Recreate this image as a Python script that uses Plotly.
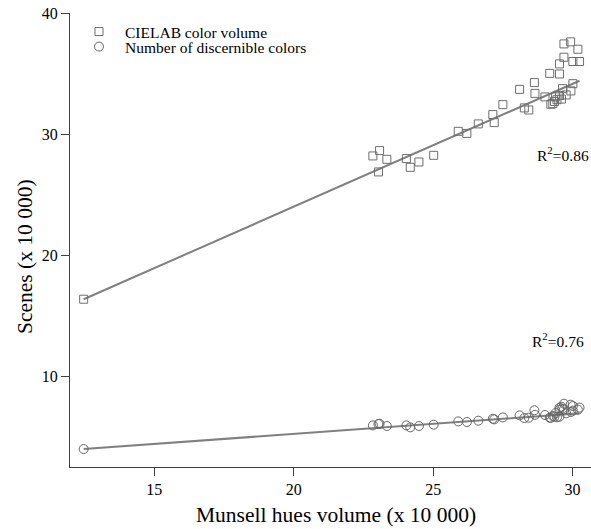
import numpy as np
import plotly.graph_objects as go

# Munsell hues volume (x 10 000) for each scene
munsell = [12.47, 22.84, 23.04, 23.08, 23.34, 24.04, 24.18, 24.49, 25.02, 25.90,
           26.21, 26.62, 27.14, 27.19, 27.50, 28.10, 28.27, 28.43, 28.63, 28.65,
           29.01, 29.18, 29.22, 29.29, 29.39, 29.44, 29.53, 29.53, 29.53, 29.64,
           29.69, 29.69, 29.77, 29.93, 29.94, 30.01, 30.01, 30.19, 30.25, 29.35,
           29.60]

# CIELAB color volume (x 10 000)
cielab = [16.39, 28.21, 26.89, 28.65, 27.93, 27.99, 27.27, 27.71, 28.26, 30.24,
          30.07, 30.85, 31.62, 30.96, 32.44, 33.70, 32.17, 32.00, 34.26, 33.37,
          33.08, 35.02, 32.47, 32.52, 33.08, 32.85, 35.80, 34.97, 33.19, 33.76,
          37.45, 36.35, 33.24, 37.62, 33.57, 36.00, 34.17, 37.01, 36.00, 32.70,
          32.90]

# Number of discernible colors (x 10 000)
discernible = [4.03, 5.98, 6.10, 6.12, 5.93, 5.98, 5.82, 5.93, 6.04, 6.31,
               6.26, 6.37, 6.53, 6.48, 6.64, 6.81, 6.59, 6.62, 7.23, 6.85,
               6.84, 6.62, 6.60, 6.76, 7.00, 6.65, 7.28, 7.44, 6.70, 7.36,
               7.77, 7.30, 6.98, 7.69, 7.09, 7.58, 7.20, 7.28, 7.45, 6.70,
               7.52]

# regression lines as drawn in the picture: [intercept, slope]
cielab_fit = [3.75, 1.0135]
discernible_fit = [1.96, 0.166]

r2_labels = ["R<sup>2</sup>=0.86", "R<sup>2</sup>=0.76"]
x_ticks = [15, 20, 25, 30]
y_ticks = [10, 20, 30, 40]

x = np.array(munsell)
fit_x = np.array([x.min(), x.max()])

SERIF = "Liberation Serif, Times New Roman, serif"
LINE_COL = "#808080"

fig = go.Figure()
fig.add_trace(go.Scatter(x=fit_x, y=cielab_fit[0] + cielab_fit[1] * fit_x,
                         mode="lines", line=dict(color=LINE_COL, width=2),
                         showlegend=False, hoverinfo="skip"))
fig.add_trace(go.Scatter(x=fit_x, y=discernible_fit[0] + discernible_fit[1] * fit_x,
                         mode="lines", line=dict(color=LINE_COL, width=2),
                         showlegend=False, hoverinfo="skip"))
fig.add_trace(go.Scatter(x=munsell, y=cielab, mode="markers",
                         name="CIELAB color volume", legend="legend",
                         marker=dict(symbol="square-open", size=8, color="#6e6e6e",
                                     line=dict(width=1, color="#6e6e6e"))))
fig.add_trace(go.Scatter(x=munsell, y=discernible, mode="markers",
                         name="Number of discernible colors", legend="legend2",
                         marker=dict(symbol="circle-open", size=9, color="#666666",
                                     line=dict(width=1, color="#666666"))))

W, H = 591, 529
L, R, T, B = 70, 0, 13, 62
pw, ph = W - L - R, H - T - B

def px_x(p):
    return (p - L) / pw

def px_y(p):
    return (H - B - p) / ph

annotations = [
    dict(text="Munsell hues volume (x 10 000)", x=px_x(335.5), y=px_y(515),
         xref="paper", yref="paper", showarrow=False, xanchor="center",
         yanchor="middle", font=dict(family=SERIF, size=21.5, color="#000")),
    dict(text="Scenes (x 10 000)", x=px_x(25), y=px_y(257), textangle=-90,
         xref="paper", yref="paper", showarrow=False, xanchor="center",
         yanchor="middle", font=dict(family=SERIF, size=21.5, color="#000")),
    dict(text=r2_labels[0], x=px_x(535), y=px_y(154), xref="paper", yref="paper",
         showarrow=False, xanchor="left", yanchor="middle",
         font=dict(family=SERIF, size=15.5, color="#000")),
    dict(text=r2_labels[1], x=px_x(530), y=px_y(340), xref="paper", yref="paper",
         showarrow=False, xanchor="left", yanchor="middle",
         font=dict(family=SERIF, size=15.5, color="#000")),
]

legend_common = dict(xanchor="left", yanchor="top", bgcolor="rgba(0,0,0,0)",
                     borderwidth=0, itemwidth=42,
                     font=dict(family=SERIF, size=15.5, color="#000"))

fig.update_layout(
    width=W, height=H,
    margin=dict(l=L, r=R, t=T, b=B),
    paper_bgcolor="white", plot_bgcolor="white",
    font=dict(family=SERIF, size=16, color="#000"),
    showlegend=True,
    legend=dict(x=px_x(73), y=px_y(15), **legend_common),
    legend2=dict(x=px_x(73), y=px_y(30), **legend_common),
    annotations=annotations,
)
fig.update_xaxes(range=[11.98, 30.66], tickvals=x_ticks, showgrid=False,
                 zeroline=False, showline=True, linecolor="#404040", linewidth=1,
                 ticks="outside", ticklen=8, tickcolor="#404040",
                 tickfont=dict(family=SERIF, size=16, color="#000"))
fig.update_yaxes(range=[2.55, 40], tickvals=y_ticks, showgrid=False,
                 zeroline=False, showline=True, linecolor="#404040", linewidth=1,
                 ticks="outside", ticklen=8, tickcolor="#404040",
                 tickfont=dict(family=SERIF, size=16, color="#000"))

fig.write_html(
    "out.html",
    config={"displayModeBar": False},
    post_script="document.body.style.margin='0';document.body.style.overflow='hidden';",
)
